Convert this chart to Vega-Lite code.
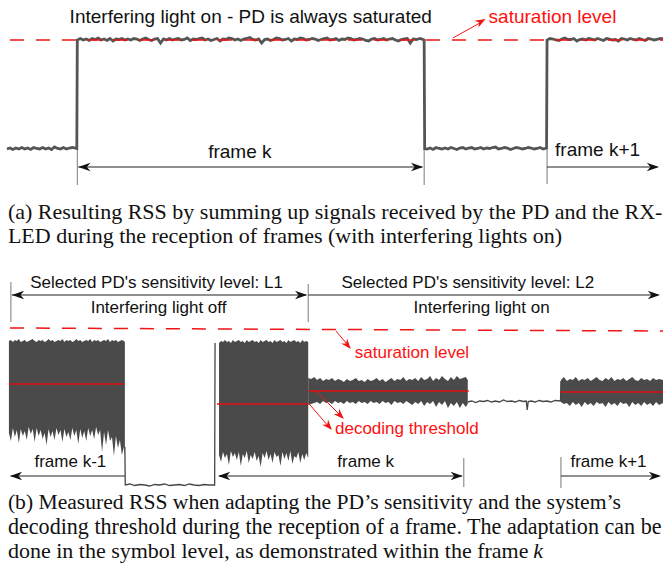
{
  "$schema": "https://vega.github.io/schema/vega-lite/v6.json",
  "width": 669,
  "height": 582,
  "autosize": {"type": "fit", "contains": "padding"},
  "padding": 0,
  "background": "white",
  "config": {"view": {"stroke": null}},
  "datasets": {
    "sigA": [
      {"x":7,"y":149},{"x":10,"y":148},{"x":13,"y":149.5},{"x":16,"y":148},{"x":19,"y":149},{"x":22,"y":147.5},{"x":25,"y":149},{"x":28,"y":148},{"x":31,"y":149.5},{"x":34,"y":147.5},{"x":37,"y":148.5},{"x":40,"y":149},{"x":43,"y":147.5},{"x":46,"y":149},{"x":49,"y":148},{"x":52,"y":149.5},{"x":55,"y":147},{"x":58,"y":148.5},{"x":61,"y":149},{"x":64,"y":147.5},{"x":67,"y":149},{"x":70,"y":148},{"x":73,"y":147.5},{"x":77.5,"y":148.5},
      {"x":78,"y":40},{"x":81,"y":38.5},{"x":84,"y":40},{"x":87,"y":39},{"x":90,"y":40.5},{"x":93,"y":38.5},{"x":96,"y":39.5},{"x":99,"y":38},{"x":102,"y":40},{"x":105,"y":39},{"x":108,"y":40.5},{"x":111,"y":38.5},{"x":114,"y":41},{"x":117,"y":39},{"x":120,"y":39.5},{"x":123,"y":38.5},{"x":126,"y":40},{"x":129,"y":39},{"x":132,"y":40},{"x":135,"y":38.5},{"x":138,"y":39},{"x":141,"y":40.5},{"x":144,"y":39},{"x":147,"y":38},{"x":150,"y":39.5},{"x":153,"y":40.5},{"x":156,"y":39},{"x":159,"y":38.5},{"x":162,"y":43},{"x":165,"y":39},{"x":168,"y":40},{"x":171,"y":38.5},{"x":174,"y":40},{"x":177,"y":39},{"x":180,"y":38.5},{"x":183,"y":40},{"x":186,"y":39.5},{"x":189,"y":38},{"x":192,"y":40.5},{"x":195,"y":39},{"x":198,"y":39.5},{"x":201,"y":38.5},{"x":204,"y":38},{"x":207,"y":40},{"x":210,"y":39},{"x":213,"y":40.5},{"x":216,"y":39.5},{"x":219,"y":38.5},{"x":222,"y":41},{"x":225,"y":39},{"x":228,"y":39.5},{"x":231,"y":38},{"x":234,"y":38.5},{"x":237,"y":40},{"x":240,"y":39},{"x":243,"y":40.5},{"x":246,"y":39},{"x":249,"y":38.5},{"x":252,"y":37.5},{"x":255,"y":39.5},{"x":258,"y":40},{"x":261,"y":39},{"x":264,"y":43},{"x":267,"y":39.5},{"x":270,"y":39},{"x":273,"y":40.5},{"x":276,"y":39.5},{"x":279,"y":38},{"x":282,"y":38.5},{"x":285,"y":40},{"x":288,"y":39.5},{"x":291,"y":38.5},{"x":294,"y":41},{"x":297,"y":39},{"x":300,"y":39.5},{"x":303,"y":38},{"x":306,"y":38.5},{"x":309,"y":40},{"x":312,"y":39.5},{"x":315,"y":38.5},{"x":318,"y":39},{"x":321,"y":40.5},{"x":324,"y":39.5},{"x":327,"y":38.5},{"x":330,"y":38},{"x":333,"y":40},{"x":336,"y":39.5},{"x":339,"y":38.5},{"x":342,"y":40.5},{"x":345,"y":39},{"x":348,"y":39.5},{"x":351,"y":38},{"x":354,"y":38.5},{"x":357,"y":40},{"x":360,"y":39.5},{"x":363,"y":38.5},{"x":366,"y":39},{"x":369,"y":40.5},{"x":372,"y":41},{"x":375,"y":39},{"x":378,"y":38.5},{"x":381,"y":40},{"x":384,"y":39.5},{"x":387,"y":38.5},{"x":390,"y":40},{"x":393,"y":39},{"x":396,"y":38.5},{"x":399,"y":40},{"x":402,"y":41},{"x":405,"y":39.5},{"x":408,"y":39},{"x":411,"y":38.5},{"x":414,"y":43},{"x":417,"y":39},{"x":420,"y":39.5},{"x":424,"y":38.5},{"x":428,"y":40},
      {"x":428.5,"y":148.5},{"x":431,"y":149},{"x":434,"y":148},{"x":437,"y":149.5},{"x":440,"y":147.5},{"x":443,"y":148.5},{"x":446,"y":149},{"x":449,"y":148},{"x":452,"y":149},{"x":455,"y":147.5},{"x":458,"y":148.5},{"x":461,"y":149.5},{"x":464,"y":148},{"x":467,"y":147.5},{"x":470,"y":149},{"x":473,"y":148},{"x":476,"y":147.5},{"x":479,"y":149},{"x":482,"y":148.5},{"x":485,"y":147.5},{"x":488,"y":149},{"x":491,"y":148},{"x":494,"y":148.5},{"x":497,"y":147.5},{"x":500,"y":147},{"x":503,"y":149},{"x":506,"y":148.5},{"x":509,"y":147.5},{"x":512,"y":148},{"x":515,"y":149.5},{"x":518,"y":148.5},{"x":521,"y":147.5},{"x":524,"y":148},{"x":527,"y":149},{"x":530,"y":148.5},{"x":533,"y":147.5},{"x":536,"y":148},{"x":539,"y":149},{"x":542,"y":148.5},{"x":545,"y":147.5},{"x":548,"y":149},{"x":551.5,"y":148},
      {"x":552,"y":40},{"x":555,"y":38.5},{"x":558,"y":39},{"x":561,"y":40},{"x":564,"y":40.5},{"x":567,"y":39},{"x":570,"y":38},{"x":573,"y":39.5},{"x":576,"y":39.5},{"x":579,"y":38.5},{"x":582,"y":41},{"x":585,"y":39.5},{"x":588,"y":39},{"x":591,"y":40},{"x":594,"y":38.5},{"x":597,"y":39},{"x":600,"y":40},{"x":603,"y":38.5},{"x":606,"y":39.5},{"x":609,"y":40.5},{"x":612,"y":38.5},{"x":615,"y":39},{"x":618,"y":40},{"x":621,"y":39.5},{"x":624,"y":41},{"x":627,"y":38.5},{"x":630,"y":39},{"x":633,"y":40},{"x":636,"y":38.5},{"x":639,"y":39.5},{"x":642,"y":40},{"x":645,"y":38.5},{"x":648,"y":39.5},{"x":651,"y":40.5},{"x":654,"y":38.5},{"x":657,"y":39},{"x":660,"y":40},{"x":663,"y":39.5},{"x":666,"y":38.5},{"x":669,"y":39}
    ],
    "sigB": [
      {"s":"p","x":126,"y":447},{"s":"p","x":126.4,"y":485},{"s":"p","x":131,"y":484},{"s":"p","x":136,"y":485.5},{"s":"p","x":141,"y":484.5},{"s":"p","x":146,"y":485},{"s":"p","x":151,"y":486},{"s":"p","x":156,"y":484.5},{"s":"p","x":161,"y":485},{"s":"p","x":166,"y":484},{"s":"p","x":171,"y":485.5},{"s":"p","x":176,"y":485},{"s":"p","x":181,"y":484.5},{"s":"p","x":186,"y":485.5},{"s":"p","x":191,"y":484},{"s":"p","x":196,"y":485},{"s":"p","x":201,"y":485.5},{"s":"p","x":206,"y":484.5},{"s":"p","x":211,"y":485},{"s":"p","x":216.6,"y":485},{"s":"p","x":217,"y":343},
      {"s":"q","x":472,"y":402},{"s":"q","x":476,"y":401},{"s":"q","x":480,"y":402.5},{"s":"q","x":484,"y":401},{"s":"q","x":488,"y":401.5},{"s":"q","x":492,"y":400.5},{"s":"q","x":496,"y":402},{"s":"q","x":500,"y":401},{"s":"q","x":504,"y":402},{"s":"q","x":508,"y":400},{"s":"q","x":512,"y":401.5},{"s":"q","x":516,"y":401},{"s":"q","x":520,"y":402},{"s":"q","x":524,"y":400.5},{"s":"q","x":528,"y":401.5},{"s":"q","x":531,"y":401},{"s":"q","x":532,"y":410},{"s":"q","x":533,"y":401.5},{"s":"q","x":536,"y":401},{"s":"q","x":540,"y":402},{"s":"q","x":544,"y":400.5},{"s":"q","x":548,"y":401.5},{"s":"q","x":552,"y":401},{"s":"q","x":556,"y":402},{"s":"q","x":560,"y":400.5},{"s":"q","x":565.6,"y":401},{"s":"q","x":566,"y":381}
    ],
    "bands": [
      {"s":"a","x":9,"y":341,"y2":433},{"s":"a","x":11,"y":340,"y2":441},{"s":"a","x":13,"y":342,"y2":428},{"s":"a","x":15,"y":340,"y2":437},{"s":"a","x":17,"y":341,"y2":430},{"s":"a","x":19,"y":339,"y2":443},{"s":"a","x":21,"y":342,"y2":429},{"s":"a","x":23,"y":341,"y2":436},{"s":"a","x":25,"y":340,"y2":431},{"s":"a","x":27,"y":342,"y2":440},{"s":"a","x":29,"y":341,"y2":427},{"s":"a","x":31,"y":340,"y2":434},{"s":"a","x":33,"y":339,"y2":429},{"s":"a","x":35,"y":341,"y2":442},{"s":"a","x":37,"y":342,"y2":428},{"s":"a","x":39,"y":340,"y2":436},{"s":"a","x":41,"y":341,"y2":430},{"s":"a","x":43,"y":340,"y2":439},{"s":"a","x":45,"y":342,"y2":433},{"s":"a","x":47,"y":341,"y2":445},{"s":"a","x":49,"y":339,"y2":429},{"s":"a","x":51,"y":341,"y2":437},{"s":"a","x":53,"y":340,"y2":431},{"s":"a","x":55,"y":342,"y2":440},{"s":"a","x":57,"y":341,"y2":428},{"s":"a","x":59,"y":340,"y2":435},{"s":"a","x":61,"y":341,"y2":430},{"s":"a","x":63,"y":339,"y2":442},{"s":"a","x":65,"y":342,"y2":429},{"s":"a","x":67,"y":340,"y2":437},{"s":"a","x":69,"y":341,"y2":432},{"s":"a","x":71,"y":340,"y2":440},{"s":"a","x":73,"y":342,"y2":428},{"s":"a","x":75,"y":341,"y2":436},{"s":"a","x":77,"y":339,"y2":430},{"s":"a","x":79,"y":341,"y2":444},{"s":"a","x":81,"y":340,"y2":429},{"s":"a","x":83,"y":342,"y2":438},{"s":"a","x":85,"y":341,"y2":431},{"s":"a","x":87,"y":340,"y2":441},{"s":"a","x":89,"y":341,"y2":428},{"s":"a","x":91,"y":339,"y2":436},{"s":"a","x":93,"y":342,"y2":430},{"s":"a","x":95,"y":340,"y2":439},{"s":"a","x":97,"y":341,"y2":427},{"s":"a","x":99,"y":340,"y2":435},{"s":"a","x":101,"y":342,"y2":430},{"s":"a","x":103,"y":341,"y2":452},{"s":"a","x":105,"y":340,"y2":432},{"s":"a","x":107,"y":341,"y2":445},{"s":"a","x":109,"y":339,"y2":430},{"s":"a","x":111,"y":342,"y2":441},{"s":"a","x":113,"y":340,"y2":437},{"s":"a","x":115,"y":341,"y2":456},{"s":"a","x":117,"y":340,"y2":436},{"s":"a","x":119,"y":342,"y2":448},{"s":"a","x":121,"y":341,"y2":440},{"s":"a","x":123,"y":340,"y2":455},{"s":"a","x":125,"y":341,"y2":447},{"s":"a","x":126,"y":342,"y2":455},
      {"s":"b","x":221,"y":343,"y2":455},{"s":"b","x":223,"y":341,"y2":462},{"s":"b","x":225,"y":342,"y2":452},{"s":"b","x":227,"y":340,"y2":458},{"s":"b","x":229,"y":342,"y2":454},{"s":"b","x":231,"y":341,"y2":465},{"s":"b","x":233,"y":343,"y2":451},{"s":"b","x":235,"y":340,"y2":457},{"s":"b","x":237,"y":342,"y2":453},{"s":"b","x":239,"y":341,"y2":460},{"s":"b","x":241,"y":340,"y2":452},{"s":"b","x":243,"y":342,"y2":466},{"s":"b","x":245,"y":341,"y2":454},{"s":"b","x":247,"y":343,"y2":458},{"s":"b","x":249,"y":340,"y2":451},{"s":"b","x":251,"y":342,"y2":463},{"s":"b","x":253,"y":341,"y2":455},{"s":"b","x":255,"y":340,"y2":459},{"s":"b","x":257,"y":342,"y2":452},{"s":"b","x":259,"y":341,"y2":461},{"s":"b","x":261,"y":343,"y2":456},{"s":"b","x":263,"y":340,"y2":467},{"s":"b","x":265,"y":342,"y2":453},{"s":"b","x":267,"y":341,"y2":458},{"s":"b","x":269,"y":340,"y2":451},{"s":"b","x":271,"y":342,"y2":460},{"s":"b","x":273,"y":341,"y2":454},{"s":"b","x":275,"y":343,"y2":463},{"s":"b","x":277,"y":340,"y2":452},{"s":"b","x":279,"y":342,"y2":457},{"s":"b","x":281,"y":341,"y2":455},{"s":"b","x":283,"y":340,"y2":466},{"s":"b","x":285,"y":342,"y2":452},{"s":"b","x":287,"y":341,"y2":459},{"s":"b","x":289,"y":343,"y2":453},{"s":"b","x":291,"y":340,"y2":461},{"s":"b","x":293,"y":342,"y2":451},{"s":"b","x":295,"y":341,"y2":464},{"s":"b","x":297,"y":340,"y2":456},{"s":"b","x":299,"y":342,"y2":458},{"s":"b","x":301,"y":341,"y2":452},{"s":"b","x":303,"y":343,"y2":463},{"s":"b","x":305,"y":340,"y2":454},{"s":"b","x":307,"y":342,"y2":460},{"s":"b","x":309,"y":341,"y2":453},{"s":"b","x":311,"y":342,"y2":458},
      {"s":"c","x":311,"y":378,"y2":405},{"s":"c","x":314,"y":379,"y2":404},{"s":"c","x":317,"y":377,"y2":403},{"s":"c","x":320,"y":380,"y2":402},{"s":"c","x":323,"y":378,"y2":404},{"s":"c","x":326,"y":381,"y2":401},{"s":"c","x":329,"y":379,"y2":403},{"s":"c","x":332,"y":380,"y2":402},{"s":"c","x":335,"y":378,"y2":404},{"s":"c","x":338,"y":381,"y2":401},{"s":"c","x":341,"y":379,"y2":403},{"s":"c","x":344,"y":380,"y2":402},{"s":"c","x":347,"y":382,"y2":404},{"s":"c","x":350,"y":379,"y2":401},{"s":"c","x":353,"y":381,"y2":403},{"s":"c","x":356,"y":380,"y2":402},{"s":"c","x":359,"y":378,"y2":404},{"s":"c","x":362,"y":381,"y2":401},{"s":"c","x":365,"y":380,"y2":403},{"s":"c","x":368,"y":382,"y2":402},{"s":"c","x":371,"y":379,"y2":404},{"s":"c","x":374,"y":381,"y2":401},{"s":"c","x":377,"y":380,"y2":403},{"s":"c","x":380,"y":378,"y2":402},{"s":"c","x":383,"y":381,"y2":404},{"s":"c","x":386,"y":379,"y2":401},{"s":"c","x":389,"y":382,"y2":403},{"s":"c","x":392,"y":380,"y2":402},{"s":"c","x":395,"y":378,"y2":405},{"s":"c","x":398,"y":381,"y2":401},{"s":"c","x":401,"y":379,"y2":403},{"s":"c","x":404,"y":380,"y2":402},{"s":"c","x":407,"y":377,"y2":404},{"s":"c","x":410,"y":381,"y2":401},{"s":"c","x":413,"y":379,"y2":403},{"s":"c","x":416,"y":380,"y2":405},{"s":"c","x":419,"y":378,"y2":402},{"s":"c","x":422,"y":381,"y2":404},{"s":"c","x":425,"y":377,"y2":401},{"s":"c","x":428,"y":380,"y2":406},{"s":"c","x":431,"y":379,"y2":402},{"s":"c","x":434,"y":376,"y2":404},{"s":"c","x":437,"y":381,"y2":401},{"s":"c","x":440,"y":378,"y2":407},{"s":"c","x":443,"y":380,"y2":402},{"s":"c","x":446,"y":376,"y2":405},{"s":"c","x":449,"y":379,"y2":401},{"s":"c","x":452,"y":381,"y2":408},{"s":"c","x":455,"y":377,"y2":403},{"s":"c","x":458,"y":380,"y2":406},{"s":"c","x":461,"y":376,"y2":402},{"s":"c","x":464,"y":379,"y2":408},{"s":"c","x":467,"y":378,"y2":403},{"s":"c","x":470,"y":377,"y2":407},{"s":"c","x":472,"y":380,"y2":404},
      {"s":"d","x":566,"y":380,"y2":402},{"s":"d","x":569,"y":377,"y2":404},{"s":"d","x":572,"y":381,"y2":403},{"s":"d","x":575,"y":379,"y2":406},{"s":"d","x":578,"y":380,"y2":402},{"s":"d","x":581,"y":377,"y2":405},{"s":"d","x":584,"y":381,"y2":403},{"s":"d","x":587,"y":379,"y2":407},{"s":"d","x":590,"y":380,"y2":402},{"s":"d","x":593,"y":378,"y2":405},{"s":"d","x":596,"y":381,"y2":403},{"s":"d","x":599,"y":379,"y2":406},{"s":"d","x":602,"y":377,"y2":402},{"s":"d","x":605,"y":380,"y2":404},{"s":"d","x":608,"y":381,"y2":403},{"s":"d","x":611,"y":378,"y2":407},{"s":"d","x":614,"y":380,"y2":402},{"s":"d","x":617,"y":377,"y2":405},{"s":"d","x":620,"y":381,"y2":403},{"s":"d","x":623,"y":379,"y2":406},{"s":"d","x":626,"y":380,"y2":402},{"s":"d","x":629,"y":378,"y2":404},{"s":"d","x":632,"y":381,"y2":403},{"s":"d","x":635,"y":379,"y2":407},{"s":"d","x":638,"y":377,"y2":402},{"s":"d","x":641,"y":380,"y2":405},{"s":"d","x":644,"y":381,"y2":403},{"s":"d","x":647,"y":378,"y2":406},{"s":"d","x":650,"y":380,"y2":402},{"s":"d","x":653,"y":379,"y2":405},{"s":"d","x":656,"y":381,"y2":403},{"s":"d","x":659,"y":378,"y2":406},{"s":"d","x":662,"y":380,"y2":402},{"s":"d","x":665,"y":379,"y2":405},{"s":"d","x":669,"y":380,"y2":403}
    ],
    "dash": [
      {"x":10,"y":40,"x2":669,"y2":40},
      {"x":10,"y":328,"x2":669,"y2":331}
    ],
    "thr": [
      {"x":9,"y":384,"x2":126,"y2":384},
      {"x":219,"y":404,"x2":311,"y2":404},
      {"x":311,"y":391,"x2":473,"y2":391},
      {"x":566,"y":392,"x2":669,"y2":392}
    ],
    "ticks": [
      {"x":78,"y":148,"y2":185},{"x":428,"y":148,"y2":185},{"x":552,"y":148,"y2":184},
      {"x":11,"y":282,"y2":322},{"x":311,"y":284,"y2":322},
      {"x":468,"y":458,"y2":487},{"x":566,"y":457,"y2":488}
    ],
    "barr": [
      {"x":79,"y":167,"x2":426,"y2":167},{"x":552,"y":167,"x2":663,"y2":167},
      {"x":12,"y":295,"x2":309,"y2":295},{"x":311,"y":295,"x2":664,"y2":295},
      {"x":11,"y":476,"x2":126,"y2":476},{"x":221,"y":476,"x2":466,"y2":476},{"x":566,"y":476,"x2":665,"y2":476}
    ],
    "bhead": [
      {"x":79,"y":167,"a":180},{"x":427,"y":167,"a":0},{"x":665,"y":167,"a":0},
      {"x":12,"y":295,"a":180},{"x":310,"y":295,"a":0},{"x":666,"y":295,"a":0},
      {"x":10,"y":476,"a":180},{"x":220,"y":476,"a":180},{"x":467,"y":476,"a":0},{"x":667,"y":476,"a":0}
    ],
    "rarr": [
      {"x":457,"y":38,"x2":486,"y2":22},
      {"x":339,"y":331,"x2":351,"y2":345},
      {"x":320,"y":392,"x2":344,"y2":416},
      {"x":312,"y":404,"x2":332,"y2":427}
    ],
    "rhead": [
      {"x":490,"y":19,"a":-29},
      {"x":354,"y":349,"a":50},
      {"x":347,"y":419,"a":45},
      {"x":335,"y":430,"a":49}
    ],
    "labA": [
      {"x":253,"y":17,"t":"Interfering light on - PD is always saturated"},
      {"x":242,"y":152,"t":"frame k"},
      {"x":603,"y":150,"t":"frame k+1"}
    ],
    "labB": [
      {"x":158,"y":283,"t":"Selected PD's sensitivity level: L1"},
      {"x":160,"y":308,"t":"Interfering light off"},
      {"x":472,"y":283,"t":"Selected PD's sensitivity level: L2"},
      {"x":486,"y":308,"t":"Interfering light on"},
      {"x":71,"y":462,"t":"frame k-1"},
      {"x":369,"y":462,"t":"frame k"},
      {"x":614,"y":462,"t":"frame k+1"}
    ],
    "redA": [
      {"x":493,"y":17,"t":"saturation level"}
    ],
    "redB": [
      {"x":358,"y":353,"t":"saturation level"},
      {"x":338,"y":429,"t":"decoding threshold"}
    ],
    "capA1": [
      {"x":8,"y":212,"t":"(a) Resulting RSS by summing up signals received by the PD and the RX-"}
    ],
    "capB1": [
      {"x":8,"y":503,"t":"(b) Measured RSS when adapting the PD’s sensitivity and the system’s"}
    ],
    "capB2": [
      {"x":8,"y":527,"t":"decoding threshold during the reception of a frame. The adaptation can be"}
    ],
    "cap": [
      {"x":8,"y":236,"t":"LED during the reception of frames (with interfering lights on)"},
      {"x":8,"y":551,"t":"done in the symbol level, as demonstrated within the frame"}
    ],
    "capI": [
      {"x":538,"y":551,"t":"k"}
    ]
  },
  "encoding": {
    "x": {"field": "x", "type": "quantitative", "scale": {"domain": [0, 669], "nice": false, "zero": false}, "axis": null},
    "y": {"field": "y", "type": "quantitative", "scale": {"domain": [0, 582], "nice": false, "zero": false, "reverse": true}, "axis": null}
  },
  "layer": [
    {"data": {"name": "ticks"}, "mark": {"type": "rule", "color": "#7a7a7a", "strokeWidth": 1}, "encoding": {"y2": {"field": "y2"}}},
    {"data": {"name": "sigA"}, "mark": {"type": "line", "color": "#555555", "strokeWidth": 2.8}, "encoding": {}},
    {"data": {"name": "bands"}, "mark": {"type": "area", "color": "#4a4a4a", "opacity": 1}, "encoding": {"y2": {"field": "y2"}, "detail": {"field": "s"}}},
    {"data": {"name": "sigB"}, "mark": {"type": "line", "color": "#474747", "strokeWidth": 1.3}, "encoding": {"detail": {"field": "s"}}},
    {"data": {"name": "dash"}, "mark": {"type": "rule", "color": "#f01414", "strokeWidth": 1.5, "strokeDash": [14, 12]}, "encoding": {"x2": {"field": "x2"}, "y2": {"field": "y2"}}},
    {"data": {"name": "thr"}, "mark": {"type": "rule", "color": "#e01010", "strokeWidth": 1.6}, "encoding": {"x2": {"field": "x2"}, "y2": {"field": "y2"}}},
    {"data": {"name": "barr"}, "mark": {"type": "rule", "color": "#222222", "strokeWidth": 1.2}, "encoding": {"x2": {"field": "x2"}, "y2": {"field": "y2"}}},
    {"data": {"name": "bhead"}, "mark": {"type": "point", "shape": "M0,0L-2,-0.7L-1.4,0L-2,0.7Z", "filled": true, "color": "#111111", "size": 150, "opacity": 1}, "encoding": {"angle": {"field": "a", "type": "quantitative", "scale": null}}},
    {"data": {"name": "rarr"}, "mark": {"type": "rule", "color": "#f01414", "strokeWidth": 1}, "encoding": {"x2": {"field": "x2"}, "y2": {"field": "y2"}}},
    {"data": {"name": "rhead"}, "mark": {"type": "point", "shape": "M0,0L-2,-0.75L-1.4,0L-2,0.75Z", "filled": true, "color": "#f01414", "size": 110, "opacity": 1}, "encoding": {"angle": {"field": "a", "type": "quantitative", "scale": null}}},
    {"data": {"name": "labA"}, "mark": {"type": "text", "font": "Liberation Sans", "fontSize": 19, "color": "#111111", "align": "center", "baseline": "middle"}, "encoding": {"text": {"field": "t"}}},
    {"data": {"name": "labB"}, "mark": {"type": "text", "font": "Liberation Sans", "fontSize": 17, "color": "#111111", "align": "center", "baseline": "middle"}, "encoding": {"text": {"field": "t"}}},
    {"data": {"name": "redA"}, "mark": {"type": "text", "font": "Liberation Sans", "fontSize": 19, "color": "#ff1010", "align": "left", "baseline": "middle"}, "encoding": {"text": {"field": "t"}}},
    {"data": {"name": "redB"}, "mark": {"type": "text", "font": "Liberation Sans", "fontSize": 17, "color": "#ff1010", "align": "left", "baseline": "middle"}, "encoding": {"text": {"field": "t"}}},
    {"data": {"name": "capA1"}, "mark": {"type": "text", "font": "Liberation Serif", "fontSize": 22, "color": "#111111", "align": "left", "baseline": "middle"}, "encoding": {"text": {"field": "t"}}},
    {"data": {"name": "capB1"}, "mark": {"type": "text", "font": "Liberation Serif", "fontSize": 21.6, "color": "#111111", "align": "left", "baseline": "middle"}, "encoding": {"text": {"field": "t"}}},
    {"data": {"name": "capB2"}, "mark": {"type": "text", "font": "Liberation Serif", "fontSize": 22.1, "color": "#111111", "align": "left", "baseline": "middle"}, "encoding": {"text": {"field": "t"}}},
    {"data": {"name": "cap"}, "mark": {"type": "text", "font": "Liberation Serif", "fontSize": 22, "color": "#111111", "align": "left", "baseline": "middle"}, "encoding": {"text": {"field": "t"}}},
    {"data": {"name": "capI"}, "mark": {"type": "text", "font": "Liberation Serif", "fontSize": 22, "fontStyle": "italic", "color": "#111111", "align": "left", "baseline": "middle"}, "encoding": {"text": {"field": "t"}}}
  ]
}
